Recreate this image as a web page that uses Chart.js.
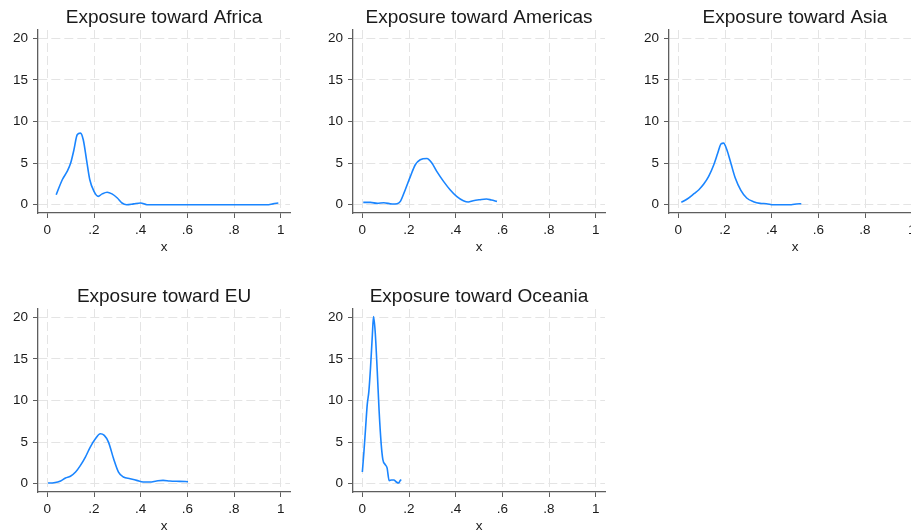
<!DOCTYPE html>
<html>
<head>
<meta charset="utf-8">
<script src="https://cdn.jsdelivr.net/npm/chart.js@4"></script>
<style>
  html, body { margin: 0; padding: 0; background: #fff; overflow: hidden; width: 911px; height: 531px; }
  .panel { position: absolute; width: 300px; height: 265px; }
</style>
</head>
<body>
<div class="panel" style="left:0px;top:0px"><canvas id="c0" width="300" height="265"></canvas></div>
<div class="panel" style="left:315px;top:0px"><canvas id="c1" width="300" height="265"></canvas></div>
<div class="panel" style="left:631px;top:0px"><canvas id="c2" width="300" height="265"></canvas></div>
<div class="panel" style="left:0px;top:279px"><canvas id="c3" width="300" height="265"></canvas></div>
<div class="panel" style="left:315px;top:279px"><canvas id="c4" width="300" height="265"></canvas></div>
<script>
// axis ticks shared by all panels
const xTicks = [0, 0.2, 0.4, 0.6, 0.8, 1];
const xTickLabels = ["0", ".2", ".4", ".6", ".8", "1"];
const yTicks = [0, 5, 10, 15, 20];
const yTickLabels = ["0", "5", "10", "15", "20"];
const titles = ["Exposure toward Africa", "Exposure toward Americas", "Exposure toward Asia",
  "Exposure toward EU", "Exposure toward Oceania"];

// density curves
const africaX = [0.038, 0.064, 0.085, 0.10, 0.114, 0.128, 0.142, 0.154, 0.168, 0.182, 0.20, 0.218,
  0.235, 0.256, 0.277, 0.30, 0.32, 0.34, 0.37, 0.40, 0.427, 0.455, 0.60, 0.80, 0.94, 0.967, 0.99];
const africaY = [1.2, 3.0, 4.0, 5.0, 6.6, 8.4, 8.6, 7.8, 5.4, 3.0, 1.6, 1.0,
  1.3, 1.5, 1.3, 0.8, 0.2, 0.0, 0.1, 0.2, 0.0, 0.0, 0.0, 0.0, 0.0, 0.1, 0.2];

const americasX = [0.004, 0.035, 0.064, 0.092, 0.128, 0.149, 0.163, 0.184, 0.206, 0.227, 0.248, 0.277,
  0.298, 0.319, 0.348, 0.376, 0.404, 0.433, 0.454, 0.475, 0.504, 0.532, 0.553, 0.577];
const americasY = [0.28, 0.28, 0.16, 0.24, 0.08, 0.12, 0.4, 1.8, 3.4, 4.8, 5.4, 5.56,
  5.0, 4.0, 2.8, 1.8, 1.0, 0.48, 0.32, 0.48, 0.6, 0.68, 0.56, 0.4];

const asiaX = [0.013, 0.038, 0.067, 0.088, 0.109, 0.13, 0.152, 0.169, 0.183, 0.194, 0.208, 0.225,
  0.244, 0.268, 0.293, 0.322, 0.35, 0.378, 0.407, 0.449, 0.484, 0.506, 0.527];
const asiaY = [0.28, 0.68, 1.32, 1.8, 2.48, 3.4, 4.8, 6.2, 7.32, 7.4, 6.6, 5.0,
  3.2, 1.72, 0.8, 0.36, 0.16, 0.12, 0.0, 0.0, 0.0, 0.08, 0.12];

const euX = [0.003, 0.028, 0.057, 0.078, 0.099, 0.121, 0.142, 0.163, 0.184, 0.206, 0.227, 0.244,
  0.262, 0.284, 0.305, 0.326, 0.355, 0.383, 0.411, 0.44, 0.468, 0.496, 0.525, 0.567, 0.603];
const euY = [0.08, 0.12, 0.32, 0.68, 0.89, 1.4, 2.2, 3.2, 4.4, 5.4, 6.0, 5.8,
  5.0, 3.0, 1.4, 0.8, 0.6, 0.4, 0.2, 0.2, 0.32, 0.4, 0.32, 0.28, 0.24];

const oceaniaX = [0.0, 0.007, 0.014, 0.021, 0.028, 0.035, 0.043, 0.048, 0.055, 0.064, 0.072, 0.081,
  0.088, 0.098, 0.106, 0.115, 0.125, 0.135, 0.146, 0.155, 0.163, 0.167];
const oceaniaY = [1.4, 3.9, 6.7, 9.5, 11.1, 13.9, 17.9, 20.1, 18.3, 13.5, 8.7, 4.7,
  2.9, 2.3, 1.9, 0.36, 0.44, 0.44, 0.2, 0.08, 0.4, 0.48];

const seriesX = [africaX, americasX, asiaX, euX, oceaniaX];
const seriesY = [africaY, americasY, asiaY, euY, oceaniaY];

const fontFamily = "'Liberation Sans', Arial, sans-serif";
const lineColor = "#1a85ff";
const gridColor = "#e4e4e4";
const axisColor = "#5e5e5e";
const textColor = "#1a1a1a";

function makePanel(i) {
  const points = seriesX[i].map((x, k) => ({ x: x, y: seriesY[i][k] }));
  let ctx = document.getElementById("c" + i).getContext("2d");
  new Chart(ctx, {
    type: "line",
    data: {
      datasets: [
        {
          data: points,
          borderColor: lineColor,
          borderWidth: 1.6,
          pointRadius: 0,
          fill: false,
          cubicInterpolationMode: "monotone",
        },
      ],
    },
    options: {
      responsive: false,
      animation: false,
      layout: { padding: { left: 0, right: 10, top: 0, bottom: 0 } },
      plugins: {
        legend: { display: false },
        tooltip: { enabled: false },
        title: {
          display: true,
          text: titles[i],
          fullSize: false,
          color: textColor,
          font: { family: fontFamily, size: 19, weight: "normal", lineHeight: 1.2 },
          padding: { top: 6, bottom: 1.2 },
        },
      },
      scales: {
        x: {
          type: "linear",
          min: -0.04,
          max: 1.04,
          afterBuildTicks: (scale) => {
            scale.ticks = xTicks.map((v) => ({ value: v }));
          },
          afterFit: (scale) => {
            scale.height = 52;
          },
          ticks: {
            autoSkip: false,
            maxRotation: 0,
            padding: 4,
            color: textColor,
            font: { family: fontFamily, size: 13.5 },
            callback: (v) => xTickLabels[xTicks.indexOf(v)],
          },
          grid: {
            color: gridColor,
            lineWidth: 1,
            tickColor: axisColor,
            tickLength: 5,
            tickBorderDash: [],
          },
          border: { display: true, color: axisColor, width: 1.3, dash: [9, 4] },
          title: {
            display: true,
            text: "x",
            color: textColor,
            font: { family: fontFamily, size: 13.5 },
            padding: { top: 0, bottom: 10 },
          },
        },
        y: {
          type: "linear",
          min: -1,
          max: 21,
          afterBuildTicks: (scale) => {
            scale.ticks = yTicks.map((v) => ({ value: v }));
          },
          afterFit: (scale) => {
            scale.width = 38;
          },
          ticks: {
            autoSkip: false,
            padding: 5,
            color: textColor,
            font: { family: fontFamily, size: 13.5 },
            callback: (v) => yTickLabels[yTicks.indexOf(v)],
          },
          grid: {
            color: gridColor,
            lineWidth: 1,
            tickColor: axisColor,
            tickLength: 5,
            tickBorderDash: [],
          },
          border: { display: true, color: axisColor, width: 1.3, dash: [9, 4] },
        },
      },
    },
  });
}

for (let i = 0; i < titles.length; i++) {
  makePanel(i);
}
</script>
</body>
</html>
